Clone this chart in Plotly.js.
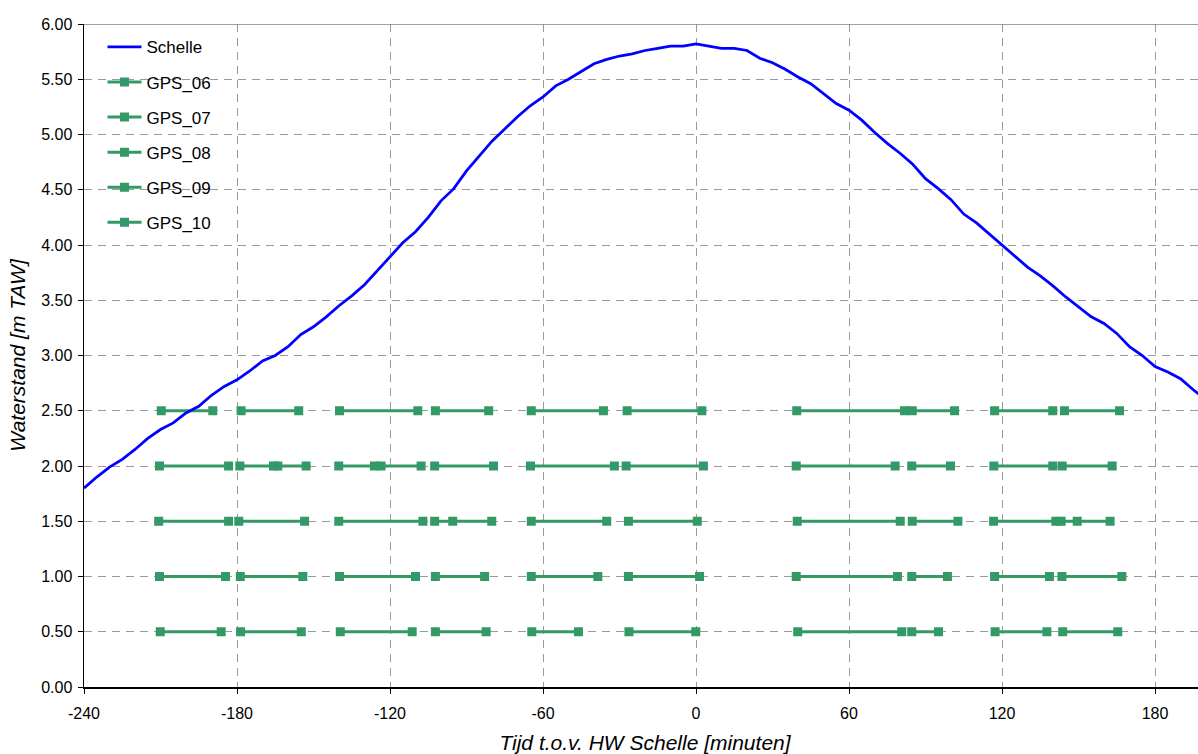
<!DOCTYPE html>
<html>
<head>
<meta charset="utf-8">
<script src="https://cdn.plot.ly/plotly-3.0.1.min.js"></script>
<style>
html, body { margin: 0; padding: 0; overflow: hidden; background: #fff; width: 1198px; height: 754px; }
#chart { width: 1207px; height: 754px; }
</style>
</head>
<body>
<div id="chart"></div>
<script>
// Waterstand Schelle (m TAW) vs tijd t.o.v. HW Schelle (minuten)
const schelleTime = [-240,-235,-230,-225,-220,-215,-210,-205,-200,-195,-190,-185,-180,-175,-170,-165,-160,-155,-150,-145,-140,-135,-130,-125,-120,-115,-110,-105,-100,-95,-90,-85,-80,-75,-70,-65,-60,-55,-50,-45,-40,-35,-30,-25,-20,-15,-10,-5,0,5,10,15,20,25,30,35,40,45,50,55,60,65,70,75,80,85,90,95,100,105,110,115,120,125,130,135,140,145,150,155,160,165,170,175,180,185,190,195,200];
const schelleLevel = [1.80,1.90,1.99,2.06,2.15,2.25,2.33,2.39,2.48,2.54,2.64,2.72,2.78,2.86,2.95,3.00,3.08,3.19,3.26,3.35,3.45,3.54,3.64,3.77,3.90,4.02,4.12,4.25,4.40,4.51,4.67,4.81,4.94,5.05,5.16,5.26,5.34,5.44,5.50,5.57,5.64,5.68,5.71,5.73,5.76,5.78,5.80,5.80,5.82,5.80,5.78,5.78,5.76,5.69,5.65,5.59,5.52,5.46,5.37,5.28,5.22,5.13,5.02,4.92,4.83,4.73,4.60,4.51,4.41,4.28,4.20,4.10,4.00,3.90,3.80,3.72,3.63,3.53,3.44,3.35,3.29,3.20,3.08,3.00,2.90,2.85,2.79,2.69,2.60];

// GPS meetperiodes (null = onderbreking)
const gps06Time = [-209.7,-189.5,null,-178.4,-155.8,null,-139.8,-109.1,null,-102.2,-81.3,null,-64.6,-36.3,null,-27.0,2.3,null,39.5,81.8,null,84.8,101.4,null,117.1,139.9,null,144.5,166.1];
const gps06Level = 2.5;
const gps07Time = [-210.4,-183.3,null,-178.9,-165.7,null,-164.0,-152.9,null,-140.1,-126.1,null,-123.5,-107.8,null,-102.5,-79.4,null,-64.9,-32.0,null,-27.4,2.9,null,39.3,78.1,null,84.6,99.8,null,116.8,139.9,null,143.6,163.2];
const gps07Level = 2.0;
const gps08Time = [-210.7,-183.3,null,-179.3,-153.5,null,-140.1,-107.1,null,-102.5,-95.4,-80.1,null,-64.6,-35.0,null,-26.5,0.5,null,39.7,80.1,null,84.8,102.7,null,116.7,141.1,null,143.2,149.5,162.4];
const gps08Level = 1.5;
const gps09Time = [-210.4,-184.5,null,-178.7,-154.2,null,-139.8,-110.0,null,-102.2,-82.9,null,-64.6,-38.5,null,-26.5,1.4,null,39.3,79.0,null,84.6,98.6,null,117.1,138.6,null,143.5,167.0];
const gps09Level = 1.0;
const gps10Time = [-210.1,-186.2,null,-178.6,-154.8,null,-139.5,-111.3,null,-102.2,-82.3,null,-64.4,-46.1,null,-26.3,-0.1,null,39.9,80.7,null,84.6,95.1,null,117.3,137.6,null,143.8,165.4];
const gps10Level = 0.5;

const xTickVals = [-240,-180,-120,-60,0,60,120,180];
const xTickText = ['-240','-180','-120','-60','0','60','120','180'];

const gpsSeries = [
  {name: 'GPS_06', t: gps06Time, lvl: gps06Level},
  {name: 'GPS_07', t: gps07Time, lvl: gps07Level},
  {name: 'GPS_08', t: gps08Time, lvl: gps08Level},
  {name: 'GPS_09', t: gps09Time, lvl: gps09Level},
  {name: 'GPS_10', t: gps10Time, lvl: gps10Level}
];

const green = '#339966';
const traces = gpsSeries.map((s, i) => ({
  type: 'scatter', mode: 'lines+markers', name: s.name,
  x: s.t, y: s.t.map(v => v === null ? null : s.lvl),
  connectgaps: false,
  line: {color: green, width: 3},
  marker: {symbol: 'square', size: 9, color: green},
  legendgroup: 'g' + i, legendrank: i + 2
}));
traces.push({
  type: 'scatter', mode: 'lines', name: 'Schelle',
  x: schelleTime, y: schelleLevel,
  line: {color: '#0000FF', width: 2.75},
  legendgroup: 'schelle', legendrank: 1
});

const fontFam = '"Liberation Sans", Arial, sans-serif';
const layout = {
  width: 1207, height: 754,
  margin: {l: 84, r: 1, t: 24, b: 67},
  paper_bgcolor: '#fff', plot_bgcolor: '#fff',
  font: {family: fontFam, size: 16, color: '#000'},
  showlegend: true,
  legend: {
    x: 0.0165, y: 0.992, xanchor: 'left', yanchor: 'top',
    bgcolor: 'rgba(0,0,0,0)', borderwidth: 0,
    font: {family: fontFam, size: 17, color: '#000'},
    traceorder: 'grouped', tracegroupgap: 10, itemwidth: 34
  },
  xaxis: {
    range: [-240, 200], tickmode: 'array', tickvals: xTickVals, ticktext: xTickText,
    ticks: 'outside', ticklen: 5, tickcolor: '#000', ticklabelstandoff: 6,
    showline: true, linecolor: '#000', linewidth: 1.5,
    showgrid: true, gridcolor: '#9a9a9a', gridwidth: 1, griddash: '8px,6px',
    zeroline: false,
    tickfont: {family: fontFam, size: 16, color: '#000'},
    title: {text: 'Tijd t.o.v. HW Schelle [minuten]', standoff: 14,
            font: {family: fontFam, size: 21, color: '#000', style: 'italic'}}
  },
  yaxis: {
    range: [0, 6], dtick: 0.5, tick0: 0, tickformat: '.2f',
    ticks: 'outside', ticklen: 5, tickcolor: '#000', ticklabelstandoff: 2,
    showline: true, linecolor: '#000', linewidth: 1.5,
    showgrid: true, gridcolor: '#9a9a9a', gridwidth: 1, griddash: '8px,6px',
    zeroline: false,
    tickfont: {family: fontFam, size: 16, color: '#000'},
    title: {text: 'Waterstand [m TAW]', standoff: 10,
            font: {family: fontFam, size: 21, color: '#000', style: 'italic'}}
  },
  shapes: [
    {type: 'line', xref: 'paper', yref: 'y', x0: 0, x1: 1, y0: 6, y1: 6,
     line: {color: '#808080', width: 1.5}}
  ]
};

Plotly.newPlot('chart', traces, layout, {displayModeBar: false, staticPlot: true});
</script>
</body>
</html>
